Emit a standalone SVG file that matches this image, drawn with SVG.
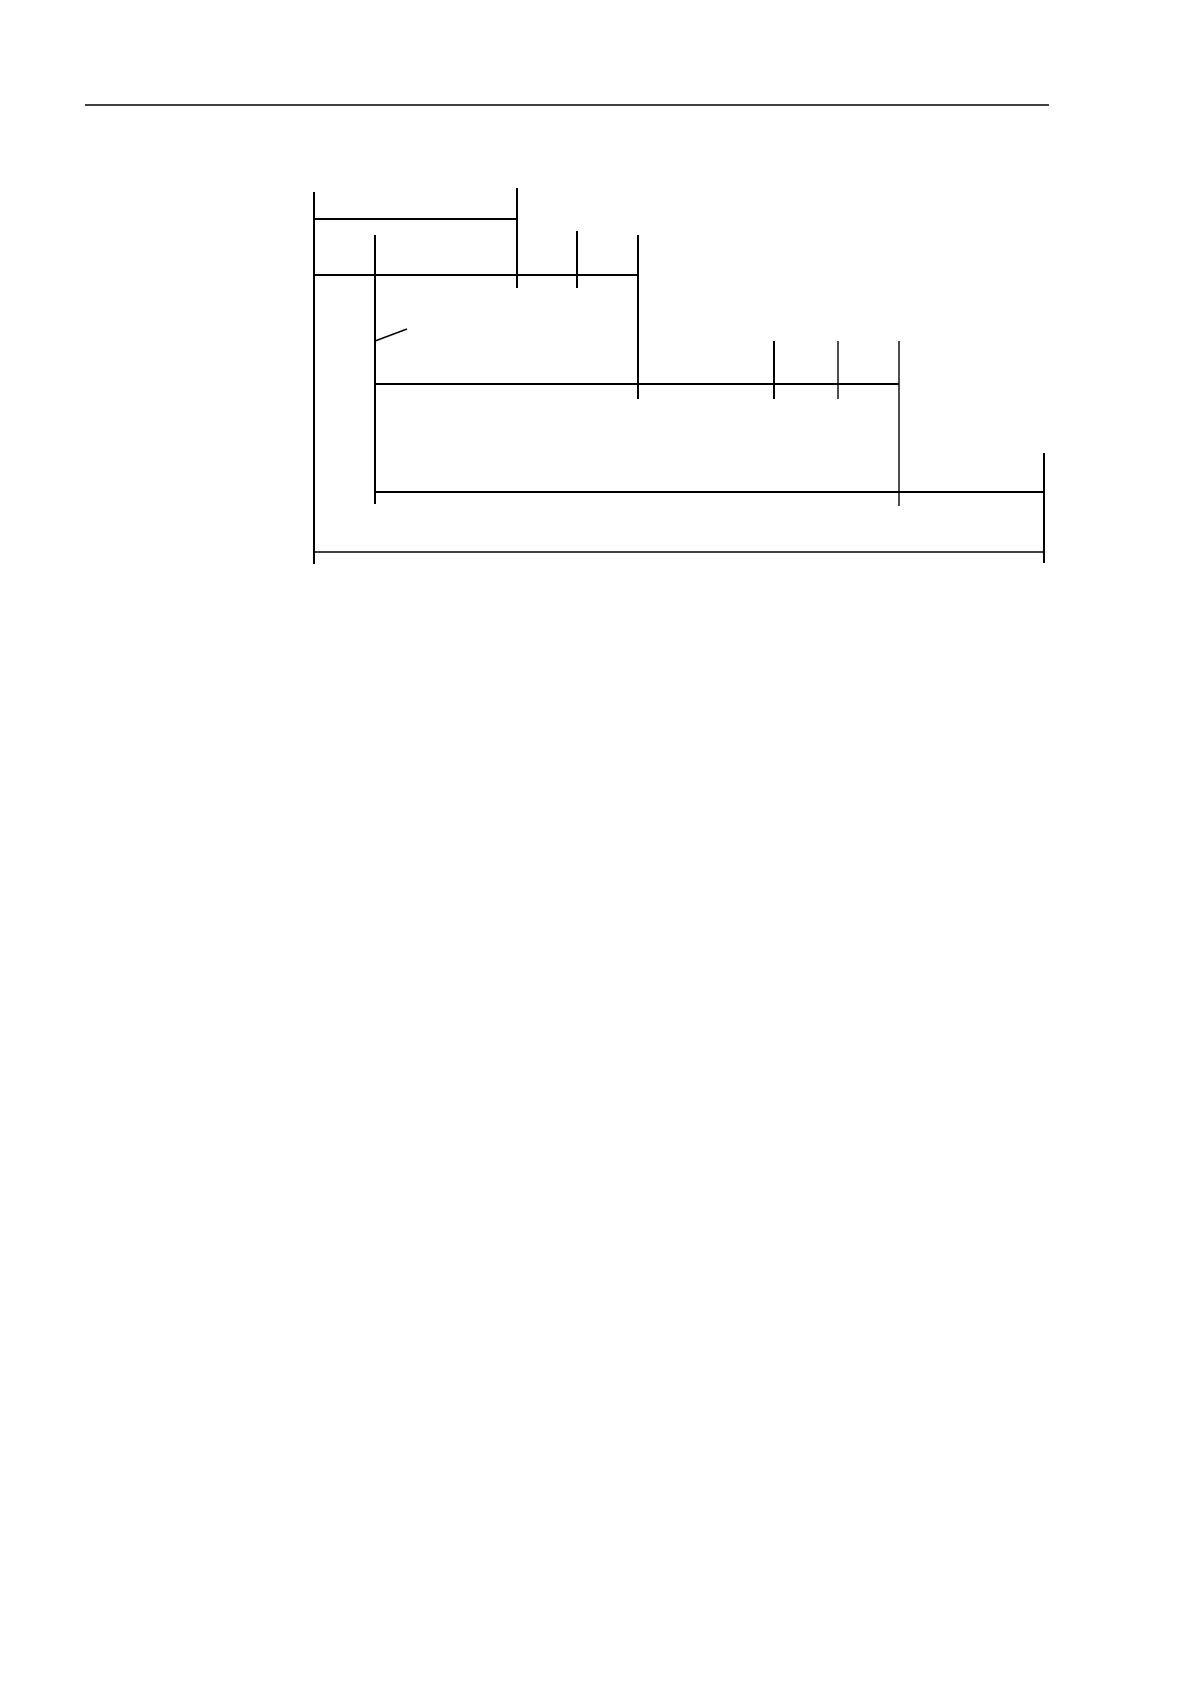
<svg xmlns="http://www.w3.org/2000/svg" width="1190" height="1682" viewBox="0 0 1190 1682">
<style>
.k{stroke:#000;stroke-width:2;fill:none}
.t{stroke:#000;stroke-width:1.4;fill:none}
</style>
<rect width="1190" height="1682" fill="#fff"/>
<g id="header"><line class="t" x1="85" y1="105" x2="1049" y2="105"/></g>
<g id="connectors">
<line class="k" x1="314" y1="192" x2="314" y2="564"/>
<line class="k" x1="314" y1="219" x2="517" y2="219"/>
<line class="k" x1="517" y1="188" x2="517" y2="288"/>
<line class="k" x1="314" y1="275" x2="638" y2="275"/>
<line class="k" x1="577" y1="231" x2="577" y2="288"/>
<line class="k" x1="375" y1="235" x2="375" y2="504"/>
<line class="k" x1="638" y1="235" x2="638" y2="399"/>
<line class="t" x1="375" y1="341" x2="407" y2="329"/>
<line class="k" x1="375" y1="384" x2="899" y2="384"/>
<line class="k" x1="774" y1="341" x2="774" y2="399"/>
<line class="t" x1="838" y1="341" x2="838" y2="399"/>
<line class="t" x1="899" y1="341" x2="899" y2="506"/>
<line class="k" x1="375" y1="492" x2="1044" y2="492"/>
<line class="k" x1="1044" y1="453" x2="1044" y2="563"/>
<line class="t" x1="314" y1="552" x2="1044" y2="552"/>
</g>
</svg>
